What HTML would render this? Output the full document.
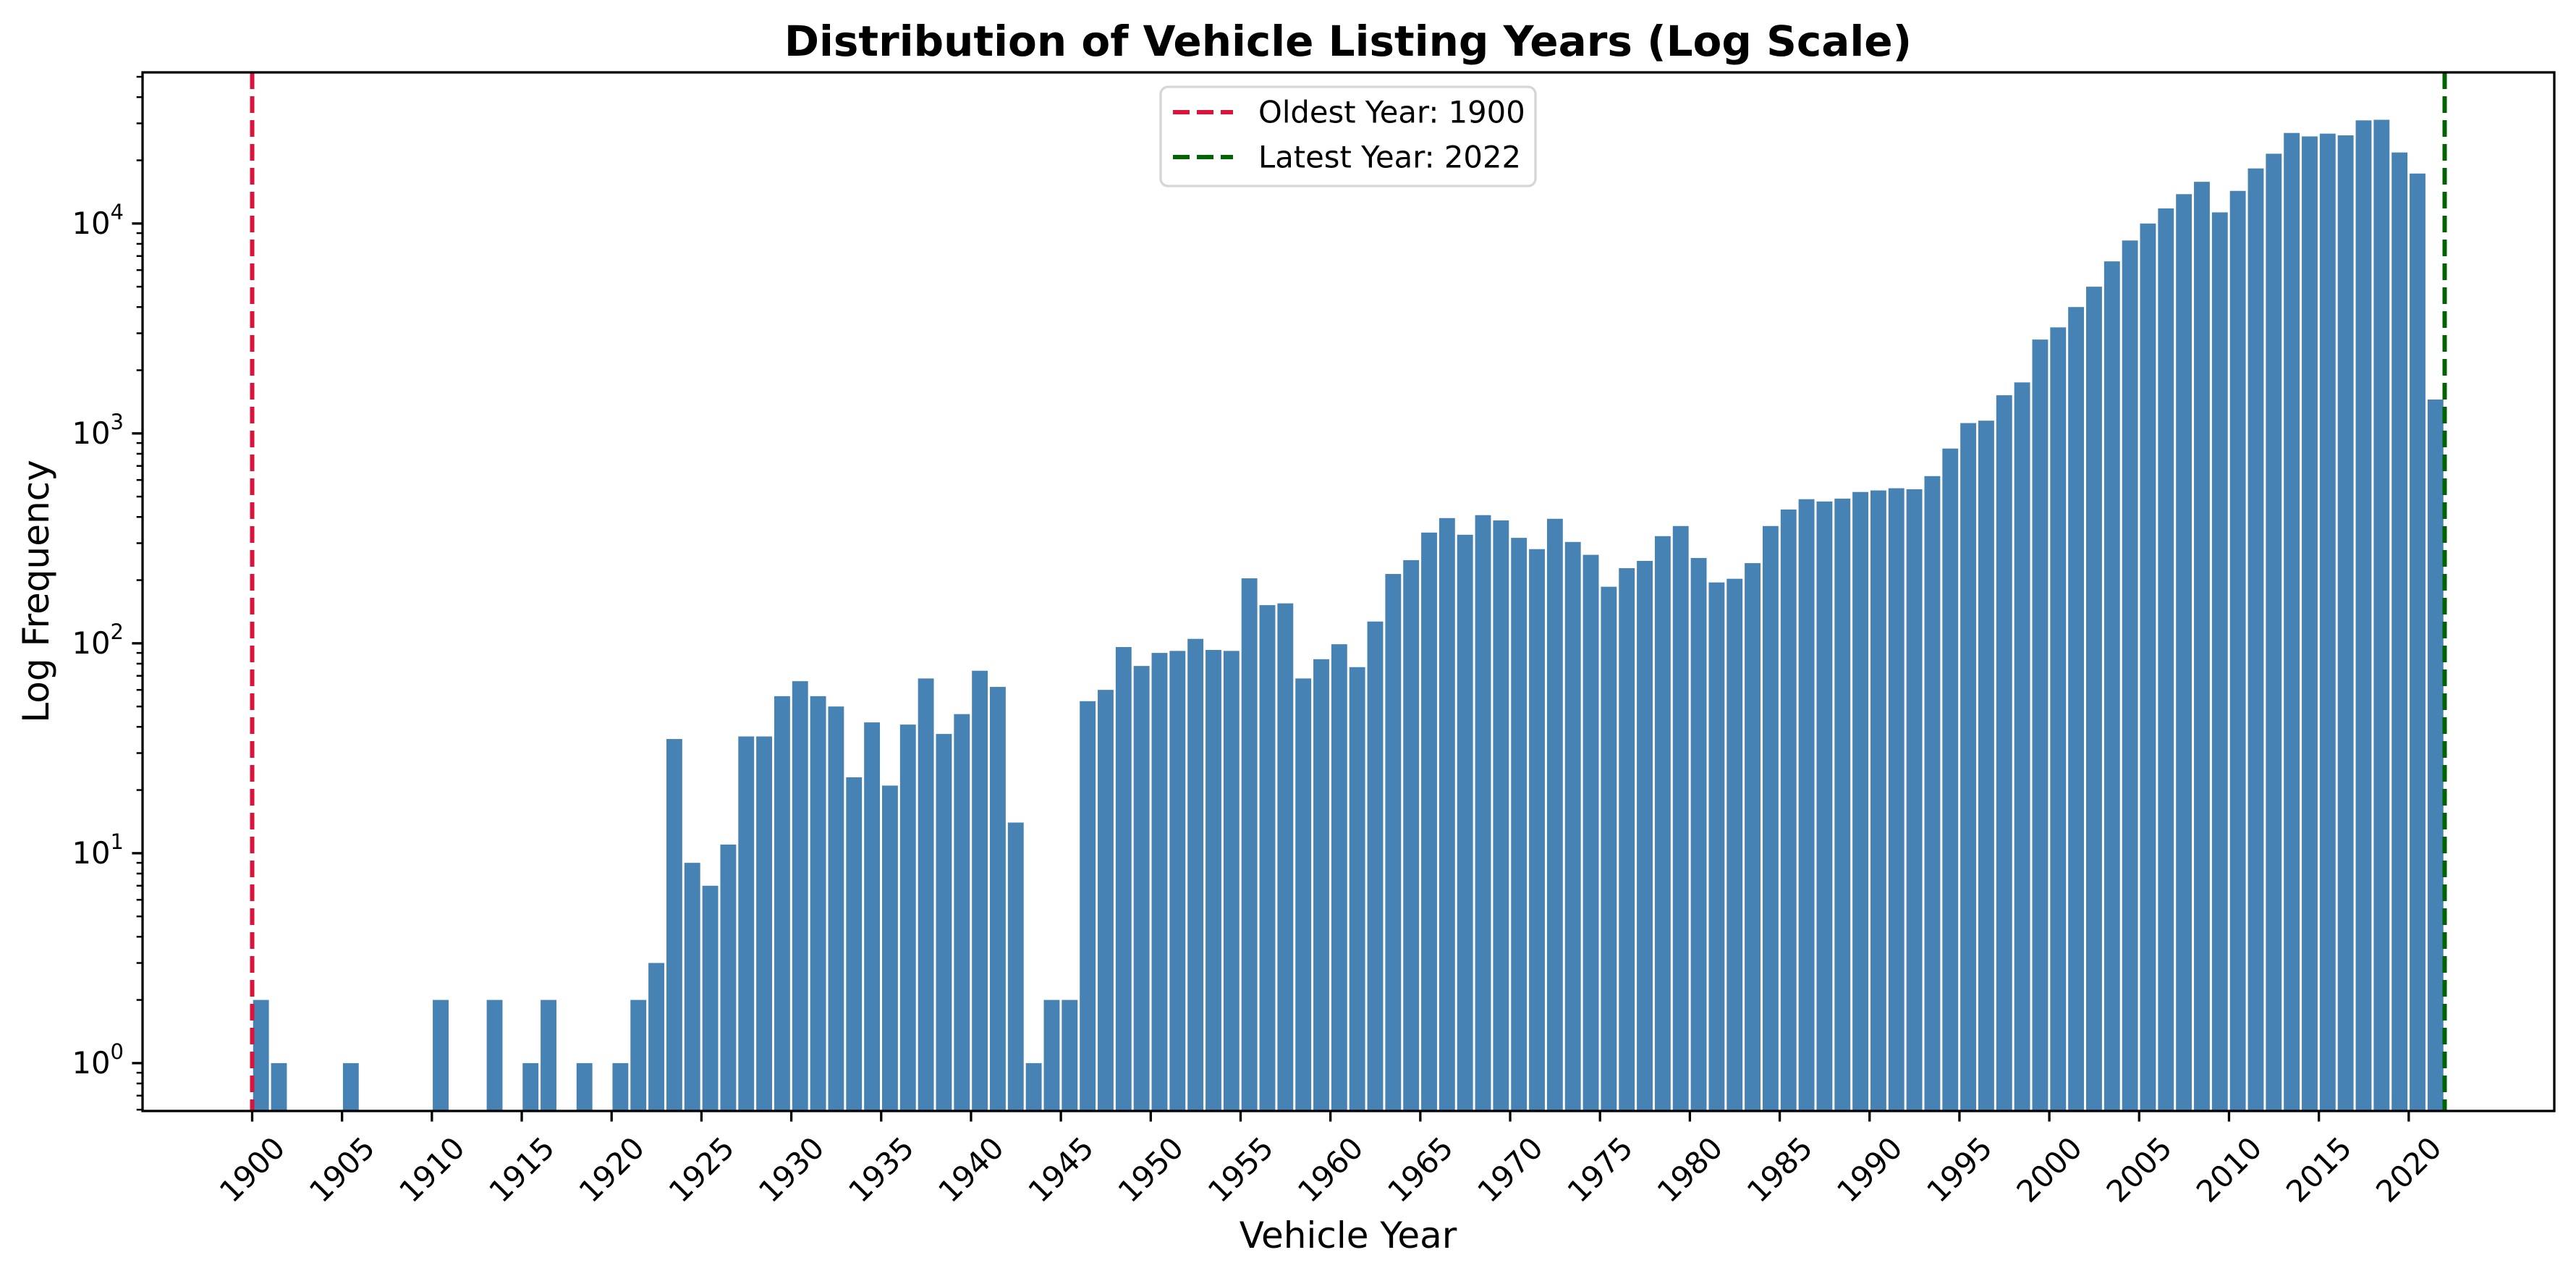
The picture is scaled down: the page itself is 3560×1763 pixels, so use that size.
<!DOCTYPE html>
<html><head><meta charset="utf-8">
<style>
html,body{margin:0;padding:0;background:#fff;}
svg{display:block;font-family:"DejaVu Sans","Liberation Sans",sans-serif;}
</style></head>
<body>
<svg id="chart" width="3560" height="1763" viewBox="0 0 3560 1763" xmlns="http://www.w3.org/2000/svg">
<rect width="3560" height="1763" fill="#fff"/>
<text x="1863" y="57" text-anchor="middle" dominant-baseline="central" font-size="58" font-weight="bold">Distribution of Vehicle Listing Years (Log Scale)</text>
<g id="bars"></g>
<g id="vlines"></g>
<g id="axes"></g>
<text x="1863" y="1707" text-anchor="middle" dominant-baseline="central" font-size="50">Vehicle Year</text>
<text x="50" y="817" text-anchor="middle" dominant-baseline="central" font-size="50" transform="rotate(-90 50 817)">Log Frequency</text>
<g>
  <rect x="1604" y="120" width="518" height="137" rx="10" fill="#fff" stroke="#d6d6d6" stroke-width="3.3"/>
  <line x1="1621" y1="155" x2="1704" y2="155" stroke="#dc143c" stroke-width="6" stroke-dasharray="23 10"/>
  <text x="1739" y="155" dominant-baseline="central" font-size="41.7">Oldest Year: 1900</text>
  <line x1="1621" y1="217" x2="1704" y2="217" stroke="#006400" stroke-width="6" stroke-dasharray="23 10"/>
  <text x="1739" y="217" dominant-baseline="central" font-size="41.7">Latest Year: 2022</text>
</g>
</svg>
<script>
const years = [];
for (let y = 1900; y <= 2021; y++) years.push(y);
const counts = [
2,1,0,0,0,1,0,0,0,0, 2,0,0,2,0,1,2,0,1,0,
1,2,3,35,9,7,11,36,36,56, 66,56,50,23,42,21,41,68,37,46,
74,62,14,1,2,2,53,60,96,78, 90,92,105,93,92,204,152,155,68,84,
99,77,127,214,249,337,395,329,408,385, 318,281,392,304,264,186,228,247,324,362,
255,195,203,241,362,434,486,474,489,526, 535,548,542,626,847,1120,1150,1520,1750,2800,
3200,4000,5000,6600,8300,10000,11800,13800,15800,11300, 14300,18300,21500,27000,26000,26800,26300,31000,31200,21800,
17300,1450];
const xTickLabels = ["1900","1905","1910","1915","1920","1925","1930","1935","1940","1945","1950","1955","1960","1965","1970","1975","1980","1985","1990","1995","2000","2005","2010","2015","2020"];
const yTickLabels = ["0","1","2","3","4"];
const refYears = [1900, 2022];

const NS = "http://www.w3.org/2000/svg";
const L = 197, R = 3530, T = 100, B = 1535;
const xMin = 1893.9, xMax = 2028.1;
const yMin = -0.228, yMax = 4.72;
function xs(v){ return L + (v - xMin) / (xMax - xMin) * (R - L); }
function ys(v){ return B - (Math.log10(v) - yMin) / (yMax - yMin) * (B - T); }
function mk(tag, attrs, parent){ const e = document.createElementNS(NS, tag); for (const k in attrs) e.setAttribute(k, attrs[k]); parent.appendChild(e); return e; }

const bars = document.getElementById('bars');
years.forEach((yr, i) => {
  const c = counts[i];
  if (!c) return;
  const x0 = xs(yr + 0.05), x1 = xs(yr + 0.93);
  const r = mk('rect', {x: x0, y: ys(c), width: x1 - x0, height: B - ys(c), fill: '#4682b4'}, bars);
  
  
});

const vl = document.getElementById('vlines');
const colors = ['#dc143c', '#006400'];
refYears.forEach((yr, i) => {
  const l = mk('line', {x1: xs(yr), x2: xs(yr), y1: T, y2: B, stroke: colors[i], 'stroke-width': 6, 'stroke-dasharray': '23 10'}, vl);
  
  
});

const ax = document.getElementById('axes');
const frame = mk('rect', {x: L, y: T, width: R - L, height: B - T, fill: 'none', stroke: '#000', 'stroke-width': 3.3}, ax);



xTickLabels.forEach(lbl => {
  const v = +lbl, x = xs(v);
  mk('line', {x1: x, x2: x, y1: B, y2: B + 14.6, stroke: '#000', 'stroke-width': 3.3}, ax);
  const cy = 1616;
  const t = mk('text', {x: x, y: cy, 'text-anchor': 'middle', 'dominant-baseline': 'central', 'font-size': 41.7, transform: `rotate(-45 ${x} ${cy})`}, ax);
  t.textContent = lbl;
  
  
});

yTickLabels.forEach(p => {
  const y = ys(Math.pow(10, +p));
  mk('line', {x1: L - 14.6, x2: L, y1: y, y2: y, stroke: '#000', 'stroke-width': 3.3}, ax);
  const t = mk('text', {x: L - 26, y: y + 14, 'text-anchor': 'end', 'font-size': 41.7}, ax);
  t.innerHTML = '10<tspan dy="-20" font-size="29">' + p + '</tspan>';
  
  
});
for (let d = -1; d <= 4; d++) {
  for (let m = 2; m <= 9; m++) {
    const v = m * Math.pow(10, d);
    const lg = Math.log10(v);
    if (lg < yMin || lg > yMax) continue;
    const y = ys(v);
    mk('line', {x1: L - 8.3, x2: L, y1: y, y2: y, stroke: '#000', 'stroke-width': 2.5}, ax);
  }
}
</script>
</body></html>
